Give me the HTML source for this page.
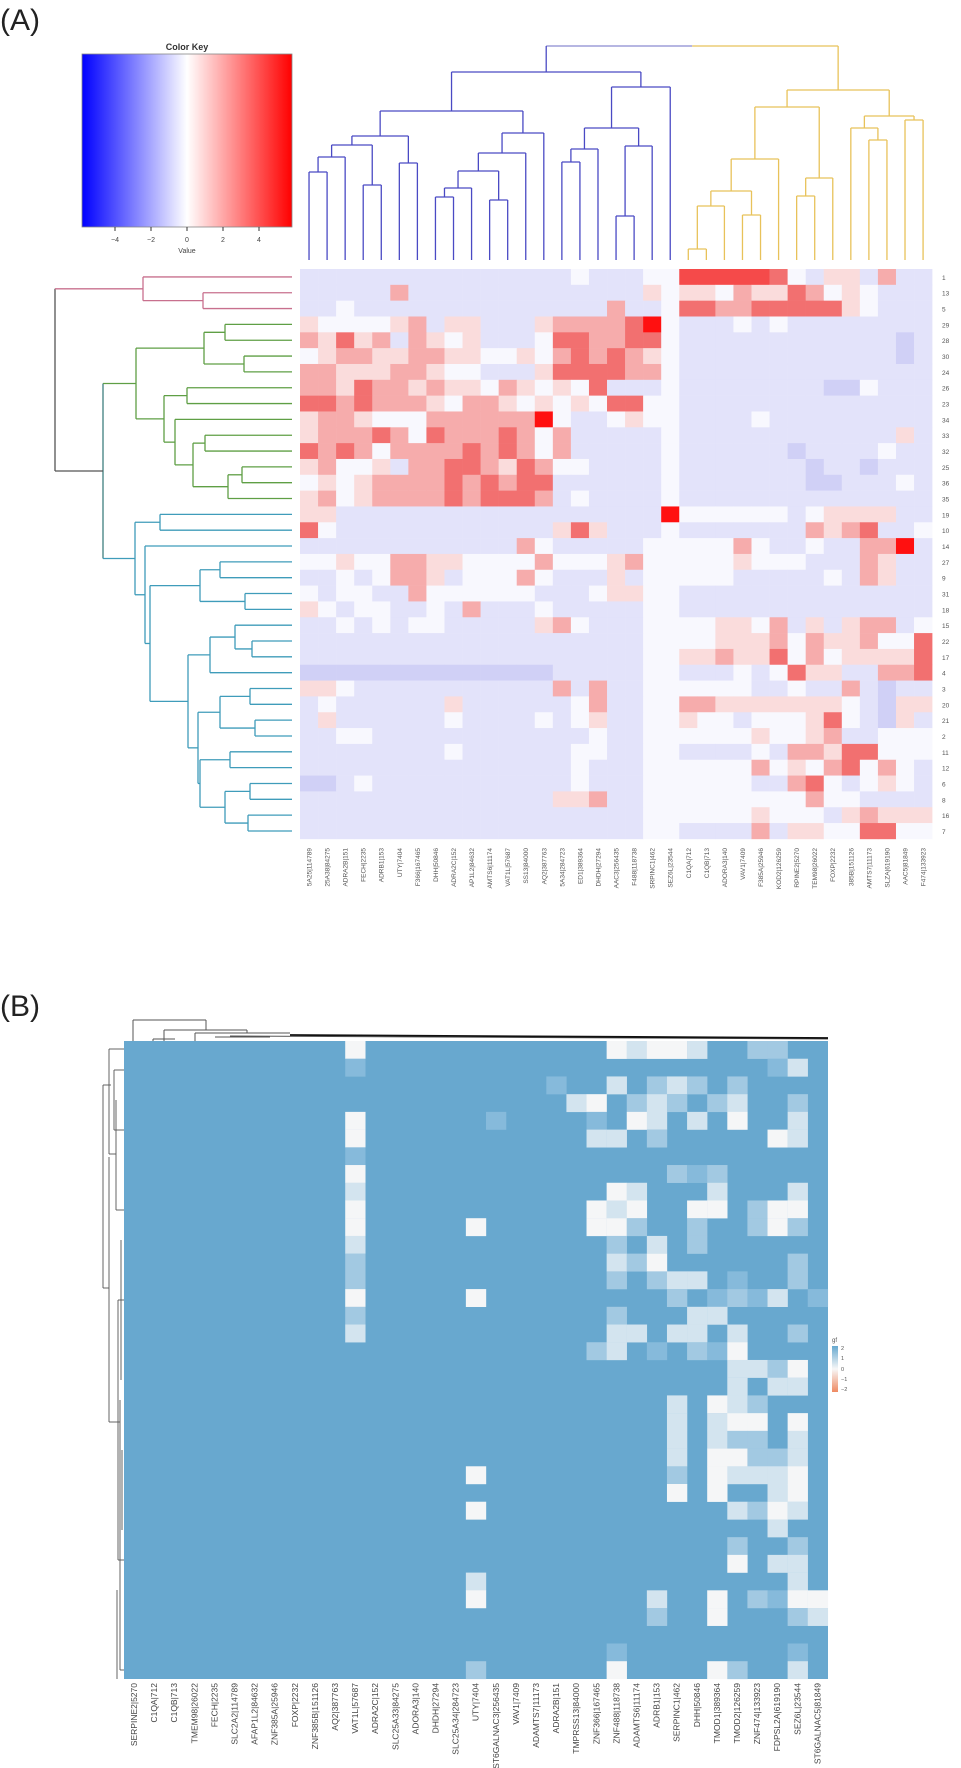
<!DOCTYPE html>
<html><head><meta charset="utf-8"><style>
html,body{margin:0;padding:0;background:#fff;}
svg{display:block;font-family:"Liberation Sans",sans-serif;}
</style></head><body>
<svg id="s" width="961" height="1768" viewBox="0 0 961 1768" xmlns="http://www.w3.org/2000/svg">
<defs>
<linearGradient id="ck" x1="0" x2="1" y1="0" y2="0">
<stop offset="0" stop-color="#0000ff"/><stop offset="0.5" stop-color="#ffffff"/><stop offset="1" stop-color="#ff0000"/>
</linearGradient>
<linearGradient id="gk" x1="0" x2="0" y1="0" y2="1">
<stop offset="0" stop-color="#67a9cf"/><stop offset="0.5" stop-color="#f7f7f7"/><stop offset="1" stop-color="#ef8a62"/>
</linearGradient>
</defs>
<text x="0" y="30" font-size="30" fill="#222">(A)</text>
<text x="0" y="1016" font-size="30" fill="#222">(B)</text>
<!-- color key -->
<text x="187" y="50" font-size="9" font-weight="bold" text-anchor="middle" fill="#333">Color Key</text>
<rect x="82" y="54" width="210" height="173" fill="url(#ck)" stroke="#888" stroke-width="0.8"/>
<g stroke="#333" stroke-width="1"><line x1="115" y1="227" x2="115" y2="231"/><line x1="151" y1="227" x2="151" y2="231"/><line x1="187" y1="227" x2="187" y2="231"/><line x1="223" y1="227" x2="223" y2="231"/><line x1="259" y1="227" x2="259" y2="231"/></g>
<g font-size="7" fill="#444" text-anchor="middle"><text x="115" y="242">−4</text><text x="151" y="242">−2</text><text x="187" y="242">0</text><text x="223" y="242">2</text><text x="259" y="242">4</text><text x="187" y="253">Value</text></g>
<g id="A"></g>
<g id="B"></g>
<!-- A row labels -->
<g font-size="6.5" fill="#555">
<text x="942" y="279.8">1</text><text x="942" y="295.6">13</text><text x="942" y="311.4">5</text><text x="942" y="327.3">29</text><text x="942" y="343.1">28</text><text x="942" y="358.9">30</text><text x="942" y="374.8">24</text><text x="942" y="390.6">26</text><text x="942" y="406.4">23</text><text x="942" y="422.3">34</text><text x="942" y="438.1">33</text><text x="942" y="453.9">32</text><text x="942" y="469.8">25</text><text x="942" y="485.6">36</text><text x="942" y="501.4">35</text><text x="942" y="517.3">19</text><text x="942" y="533.1">10</text><text x="942" y="548.9">14</text><text x="942" y="564.8">27</text><text x="942" y="580.6">9</text><text x="942" y="596.4">31</text><text x="942" y="612.3">18</text><text x="942" y="628.1">15</text><text x="942" y="643.9">22</text><text x="942" y="659.8">17</text><text x="942" y="675.6">4</text><text x="942" y="691.4">3</text><text x="942" y="707.3">20</text><text x="942" y="723.1">21</text><text x="942" y="738.9">2</text><text x="942" y="754.8">11</text><text x="942" y="770.6">12</text><text x="942" y="786.4">6</text><text x="942" y="802.3">8</text><text x="942" y="818.1">16</text><text x="942" y="833.9">7</text>
</g>
<!-- A col labels -->
<g font-size="6.5" fill="#555" text-anchor="end">
<text transform="translate(311.5,848) rotate(-90)">5A25|114789</text>
<text transform="translate(329.6,848) rotate(-90)">25A38|84275</text>
<text transform="translate(347.6,848) rotate(-90)">ADRA2B|151</text>
<text transform="translate(365.7,848) rotate(-90)">FECH|2235</text>
<text transform="translate(383.7,848) rotate(-90)">ADRB1|153</text>
<text transform="translate(401.8,848) rotate(-90)">UTY|7404</text>
<text transform="translate(419.9,848) rotate(-90)">F366|167465</text>
<text transform="translate(437.9,848) rotate(-90)">DHH|50846</text>
<text transform="translate(456,848) rotate(-90)">ADRA2C|152</text>
<text transform="translate(474,848) rotate(-90)">AP1L2|84632</text>
<text transform="translate(492.1,848) rotate(-90)">AMTS6|11174</text>
<text transform="translate(510.2,848) rotate(-90)">VAT1L|57687</text>
<text transform="translate(528.2,848) rotate(-90)">SS13|84000</text>
<text transform="translate(546.3,848) rotate(-90)">AQ2|387763</text>
<text transform="translate(564.3,848) rotate(-90)">5A34|284723</text>
<text transform="translate(582.4,848) rotate(-90)">ED1|389364</text>
<text transform="translate(600.5,848) rotate(-90)">DHDH|27294</text>
<text transform="translate(618.5,848) rotate(-90)">AAC3|256435</text>
<text transform="translate(636.6,848) rotate(-90)">F488|118738</text>
<text transform="translate(654.6,848) rotate(-90)">SRPINC1|462</text>
<text transform="translate(672.7,848) rotate(-90)">SEZ6L|23544</text>
<text transform="translate(690.8,848) rotate(-90)">C1QA|712</text>
<text transform="translate(708.8,848) rotate(-90)">C1QB|713</text>
<text transform="translate(726.9,848) rotate(-90)">ADORA3|140</text>
<text transform="translate(744.9,848) rotate(-90)">VAV1|7409</text>
<text transform="translate(763,848) rotate(-90)">F385A|25946</text>
<text transform="translate(781.1,848) rotate(-90)">KOD2|126259</text>
<text transform="translate(799.1,848) rotate(-90)">RPINE2|5270</text>
<text transform="translate(817.2,848) rotate(-90)">TEM98|26022</text>
<text transform="translate(835.2,848) rotate(-90)">FOXP|2232</text>
<text transform="translate(853.3,848) rotate(-90)">385B|151126</text>
<text transform="translate(871.4,848) rotate(-90)">AMTS7|11173</text>
<text transform="translate(889.4,848) rotate(-90)">SLZA|619190</text>
<text transform="translate(907.5,848) rotate(-90)">AAC5|81849</text>
<text transform="translate(925.5,848) rotate(-90)">F474|133923</text>
</g>
<!-- B col labels -->
<g font-size="8.5" fill="#444" text-anchor="end">
<text transform="translate(137,1683) rotate(-90)">SERPINE2|5270</text>
<text transform="translate(157.1,1683) rotate(-90)">C1QA|712</text>
<text transform="translate(177.2,1683) rotate(-90)">C1QB|713</text>
<text transform="translate(197.3,1683) rotate(-90)">TMEM98|26022</text>
<text transform="translate(217.4,1683) rotate(-90)">FECH|2235</text>
<text transform="translate(237.5,1683) rotate(-90)">SLC2A2|114789</text>
<text transform="translate(257.6,1683) rotate(-90)">AFAP1L2|84632</text>
<text transform="translate(277.7,1683) rotate(-90)">ZNF385A|25946</text>
<text transform="translate(297.8,1683) rotate(-90)">FOXP|2232</text>
<text transform="translate(317.9,1683) rotate(-90)">ZNF385B|151126</text>
<text transform="translate(338,1683) rotate(-90)">AQ2|387763</text>
<text transform="translate(358.1,1683) rotate(-90)">VAT1L|57687</text>
<text transform="translate(378.2,1683) rotate(-90)">ADRA2C|152</text>
<text transform="translate(398.3,1683) rotate(-90)">SLC25A33|84275</text>
<text transform="translate(418.4,1683) rotate(-90)">ADORA3|140</text>
<text transform="translate(438.5,1683) rotate(-90)">DHDH|27294</text>
<text transform="translate(458.6,1683) rotate(-90)">SLC25A34|284723</text>
<text transform="translate(478.7,1683) rotate(-90)">UTY|7404</text>
<text transform="translate(498.8,1683) rotate(-90)">ST6GALNAC3|256435</text>
<text transform="translate(518.9,1683) rotate(-90)">VAV1|7409</text>
<text transform="translate(539,1683) rotate(-90)">ADAMTS7|11173</text>
<text transform="translate(559.1,1683) rotate(-90)">ADRA2B|151</text>
<text transform="translate(579.2,1683) rotate(-90)">TMPRSS13|84000</text>
<text transform="translate(599.3,1683) rotate(-90)">ZNF366|167465</text>
<text transform="translate(619.4,1683) rotate(-90)">ZNF488|118738</text>
<text transform="translate(639.5,1683) rotate(-90)">ADAMTS6|11174</text>
<text transform="translate(659.6,1683) rotate(-90)">ADRB1|153</text>
<text transform="translate(679.7,1683) rotate(-90)">SERPINC1|462</text>
<text transform="translate(699.8,1683) rotate(-90)">DHH|50846</text>
<text transform="translate(719.9,1683) rotate(-90)">TMOD1|389364</text>
<text transform="translate(740,1683) rotate(-90)">TMOD2|126259</text>
<text transform="translate(760.1,1683) rotate(-90)">ZNF474|133923</text>
<text transform="translate(780.2,1683) rotate(-90)">FDPSL2A|619190</text>
<text transform="translate(800.3,1683) rotate(-90)">SEZ6L|23544</text>
<text transform="translate(820.4,1683) rotate(-90)">ST6GALNAC5|81849</text>
</g>
<!-- B legend -->
<text x="832" y="1342" font-size="6" fill="#555">gf</text>
<rect x="832" y="1346" width="6" height="46" fill="url(#gk)"/>
<g font-size="5.5" fill="#555"><text x="841" y="1350">2</text><text x="841" y="1360">1</text><text x="841" y="1371">0</text><text x="841" y="1381">−1</text><text x="841" y="1391">−2</text></g>
</svg>
<script>
var NS="http://www.w3.org/2000/svg";
function el(p,n,a){var e=document.createElementNS(NS,n);for(var k in a)e.setAttribute(k,a[k]);p.appendChild(e);return e;}
var GA=document.getElementById("A"),GB=document.getElementById("B");
// ---------- Panel A heatmap
var cA={b:"#e3e3fa",B:"#d0d0f6",w:"#f8f8fe",p:"#fadcdc",r:"#f6acac",R:"#f27070",S:"#f54a4a",X:"#ff1010"};
var rowsA=[
["bbbbbbbbbbbbbbbwbbbww","SSSSSRwbppbrbb"],
["bbbbbrbbbbbbbbbbbbbpw","ppwrppRrwpwbbb"],
["bbwbbbbbbbbbbbbbbrbbw","RRrrRRRRRpwbbb"],
["pwwwwprbppbbbprrrrRXw","bbbwbwbbbbbbbb"],
["rpRprbrpwpbbbwRRrrRRw","bbbbbbbbbbbbBb"],
["wprrpprrppwwpwrRrRrpw","bbbbbbbbbbbbBb"],
["rrppprrpwwbbbpRRRRrrw","bbbbbbbbbbbbbb"],
["rrpRrrprppwrpwpwRbbbw","bbbbbbbbBBwbbb"],
["RRrRrrrpwrrpwpwpwRRww","bbbbbbbbbbbbbb"],
["prrpwwwrrrrrrXwbbwpww","bbbbwbbbbbbbbb"],
["prrrRrwRrrrRrwrbbbbbw","bbbbbbbbbbbbpb"],
["RrRrwrrrrRrRrwrbbbbbw","bbbbbbBbbbbwbb"],
["prwwpbrrRRrpRrwwbbbbw","bbbbbbbBbbBbbb"],
["wpwprrrrRrRrRRbbbbbbw","bbbbbbbBBbbbwb"],
["prwprrrrRrRRRrbwbbbbw","bbbbbbbbbbbbbb"],
["ppbbbbbbbbbbbbbbbbbbX","wwwwwwbwppppbb"],
["RwbbbbbbbbbbbbpRpbbbw","bbbbbbbrprRbbw"],
["bbbbbbbbbbbbrwbbbbbww","wwwrwbbwbbrrXb"],
["wwpwwrrppwwwwrwwwprww","wwwpwwwbbbrpbb"],
["bbwbwrrpbwwwrwbbbpbww","wwwbbbbbwbrpbb"],
["wbwwbbrwwwwwwbbbwppww","bbbbbbbbbbbbbb"],
["pwbwwbbwbrbbbwbbbbbww","bbbbbbbbbbbbbb"],
["bbwbwbwwbbbbbprwbbbww","wwppwrbpbprrbw"],
["bbbbbbbbbbbbbbbbbbbww","wwppprwrpprwwR"],
["bbbbbbbbbbbbbbbbbbbww","pprppRwrwppppR"],
["BBBBBBBBBBBBBBbbbbbww","bbbwbwRppbbrrR"],
["ppwbbbbbbbbbbbrbrbbww","wwwwbbwbbrbBbb"],
["bwbbbbbbpbbbbbbwrbbww","rrpppppppwbBpp"],
["bpbbbbbbwbbbbwbwpbbww","pwwbwwwpRwbBpb"],
["bbwwbbbbbbbbbbbbwbbww","wwwwpwwprbbwww"],
["bbbbbbbbwbbbbbbwwbbww","bbbbwbrrpRRwww"],
["bbbbbbbbbbbbbbbwbbbww","wwwwrwpwrRwrwb"],
["BBbwbbbbbbbbbbbwbbbww","wwwwbbrRwbwpwb"],
["bbbbbbbbbbbbbbpprbbww","wwwwwwwrwwbbbb"],
["bbbbbbbbbbbbbbbbbbbww","wwwwpwwwbprppp"],
["bbbbbbbbbbbbbbbbbbbww","bbbbrbppwwRRww"]];
var AX=300,AY=269,CW=18.06,RH=15.83;
rowsA.forEach(function(r,i){var s=(r[0]+"bbbbbbbbbbbbbbbbbbbbb").slice(0,21)+(r[1]+"bbbbbbbbbbbbbb").slice(0,14);
for(var j=0;j<35;j++){el(GA,"rect",{x:(AX+j*CW).toFixed(2),y:(AY+i*RH).toFixed(2),width:(CW+0.3).toFixed(2),height:(RH+0.3).toFixed(2),fill:cA[s[j]]||cA.b});}});
// column dendrogram A
function ln(g,x1,y1,x2,y2,c,w){el(g,"line",{x1:x1,y1:y1,x2:x2,y2:y2,stroke:c,"stroke-width":w||1.3});}
function dCol(n,c){if(typeof n==="number")return{p:AX+CW/2+CW*n,h:260};
var a=dCol(n[1],c),b=dCol(n[2],c);ln(GA,a.p,n[0],b.p,n[0],c);ln(GA,a.p,n[0],a.p,a.h,c);ln(GA,b.p,n[0],b.p,b.h,c);return{p:(a.p+b.p)/2,h:n[0]};}
var Bsub=[87,[128,[149,[162,14,15],16],[146,[216,17,18],19]],20];
var Lft=[72,[111,[136,[145,[157,[172,0,1],2],[185,3,4]],[163,5,6]],[133,[153,[171,[188,[197,7,8],9],[200,10,11]],12],13]],Bsub];
var Rl=[107,[159,[191,[206,[249,21,22],23],[215,24,25]],26],[178,[196,27,28],29]];
var Rr=[116,[128,30,[140,31,32]],[120,33,34]];
var Rt=[90,Rl,Rr];
var a=dCol(Lft,"#4a4ac4"),b=dCol(Rt,"#e8c25a");
ln(GA,a.p,46,(a.p+b.p)/2,46,"#8a8ad0");ln(GA,(a.p+b.p)/2,46,b.p,46,"#e8c25a");
ln(GA,a.p,46,a.p,a.h,"#4a4ac4");ln(GA,b.p,46,b.p,b.h,"#e8c25a");
// row dendrogram A
function dRow(n,c){if(typeof n==="number")return{p:AY+RH/2+RH*n,x:292};
var a=dRow(n[1],c),b=dRow(n[2],c);ln(GA,n[0],a.p,n[0],b.p,c);ln(GA,n[0],a.p,a.x,a.p,c);ln(GA,n[0],b.p,b.x,b.p,c);return{p:(a.p+b.p)/2,x:n[0]};}
var Pink=[143,0,[203,1,2]];
var Green=[136,[204,[225,3,4],[244,5,6]],[164,[187,7,8],[175,9,[193,[205,10,11],[228,[242,12,13],14]]]]];
var T18=[200,[220,18,19],[245,20,21]],T22=[210,[235,22,[252,23,24]],25],T26=[220,[250,26,27],[255,28,29]],T30=[200,[230,30,31],[225,[250,32,33],[248,34,35]]];
var Teal=[135,[160,15,16],[145,17,[150,T18,[188,T22,[198,T26,T30]]]]];
var p=dRow(Pink,"#c8708e"),g=dRow(Green,"#5f9f45"),t=dRow(Teal,"#3f9cba");
ln(GA,103,g.p,103,t.p,"#3f7f80");ln(GA,103,g.p,g.x,g.p,"#5f9f45");ln(GA,103,t.p,t.x,t.p,"#3f9cba");
var gt=(g.p+t.p)/2;
ln(GA,55,p.p,55,gt,"#555");ln(GA,55,p.p,p.x,p.p,"#c8708e");ln(GA,55,gt,103,gt,"#555");
// ---------- Panel B heatmap
var BX=124,BY=1041,BW=20.11,BH=17.72;
var cB={w:"#f5f6f7",l:"#d3e4ef",m:"#a2c9e2",n:"#86badb"};
el(GB,"rect",{x:BX,y:BY,width:704,height:638,fill:"#68a8cf"});
var sp=["11w 24w 25l 26w 27w 28l 31m 32m","11n 32n 33l","21n 24l 26m 27l 28m 30m","22l 23w 25m 26l 27m 29m 30l 33m","11w 18n 23n 25w 26l 28l 30w 33l","11w 23l 24l 26m 32w 33l","11n","11w 27m 28n 29m","11l 24w 25l 29l 33l","11w 23w 24l 25w 28w 29w 31m 32w 33w","11w 17w 23w 24w 25m 28m 31m 32w 33m","11l 24m 26l 28m","11m 24l 25m 26w 33m","11m 24m 26m 27l 28l 30n 33m","11w 17w 27m 29n 30m 31n 32l 34n","11m 24m 28l 29l","11l 24l 25l 27l 28l 30l 33m","23m 24l 26n 28m 29n 30w","30l 31l 32m 33w","30l 32l 33l","27l 29w 30l 31m","27l 29l 30w 31w 33w","27l 29l 30m 31m 33l","27l 29w 30w 31m 32m 33l","17w 27m 29w 30l 31l 32l 33w","27w 29w 32l 33w","17w 30l 31m 32w 33l","32l","30m 33m","30w 32l 33l","17l 33l","17w 26l 29w 31m 32n 33w 34w","26m 29w 33m 34l","","24n 33n","17m 24w 29w 30m 33l"];
sp.forEach(function(s,i){if(!s)return;s.split(" ").forEach(function(k){var c=parseInt(k),t=k.replace(/[0-9]/g,"");el(GB,"rect",{x:(BX+c*BW).toFixed(2),y:(BY+i*BH).toFixed(2),width:(BW+0.2).toFixed(2),height:(BH+0.2).toFixed(2),fill:cB[t]});});});
// B dendrograms (approximate)
var dc="#555";
[[133,1020,206,1020],[133,1020,133,1041],[206,1020,206,1030],[164,1030,247,1030],[164,1030,164,1041],[247,1030,247,1033],[195,1033,290,1033],[195,1033,195,1041],[153,1039,175,1039],[153,1039,153,1041],[215,1037,270,1037],[230,1036,828,1039]].forEach(function(l){ln(GB,l[0],l[1],l[2],l[3],dc,1);});
ln(GB,290,1035,828,1038,"#111",1.8);
[[103,1085,103,1288],[103,1085,111,1085],[103,1288,109,1288],[109,1049,109,1154],[109,1049,124,1049],[109,1154,116,1154],[114,1070,114,1130],[114,1070,124,1070],[114,1130,124,1130],[116,1100,116,1210],[116,1210,124,1210],[109,1157,109,1422],[109,1422,120,1422],[118,1300,118,1560],[118,1300,124,1300],[118,1560,124,1560],[120,1400,120,1670],[120,1670,124,1670],[117,1590,117,1679],[121,1240,121,1380],[122,1450,122,1530]].forEach(function(l){ln(GB,l[0],l[1],l[2],l[3],dc,0.9);});
</script>
</body></html>
